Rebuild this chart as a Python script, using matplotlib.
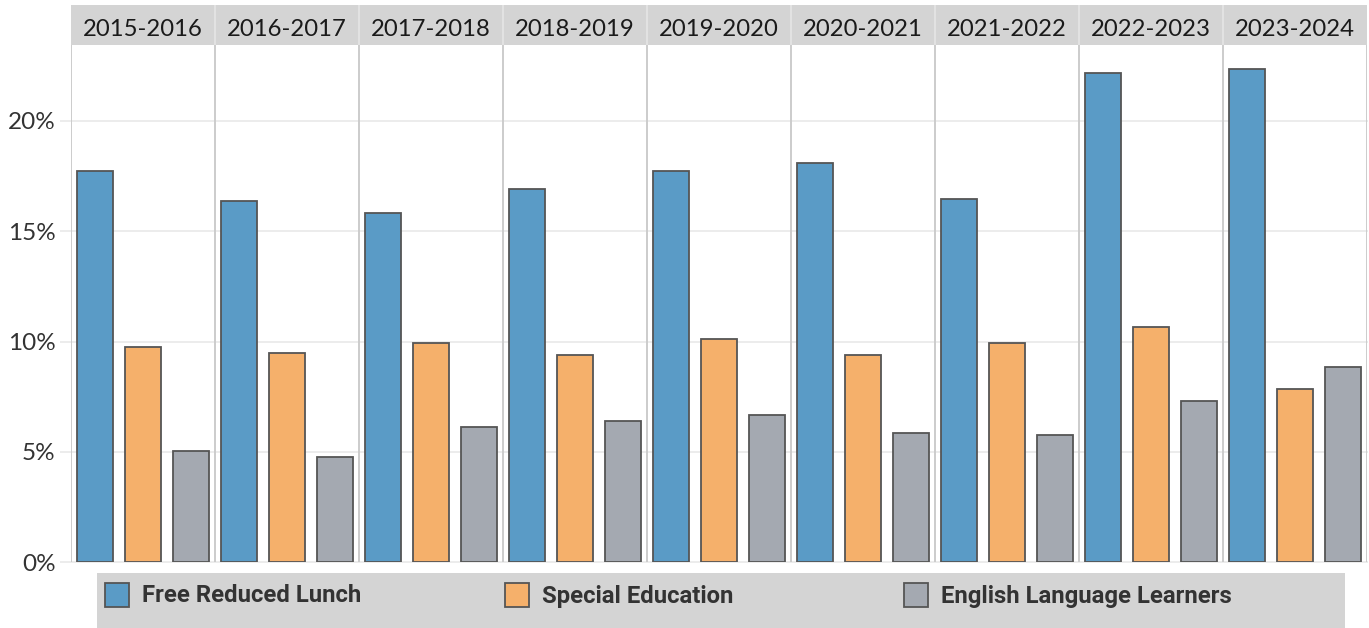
import matplotlib
matplotlib.use("Agg")
import matplotlib.pyplot as plt
from matplotlib.patches import Rectangle
from matplotlib.lines import Line2D
import numpy as np

years = ["2015-2016", "2016-2017", "2017-2018", "2018-2019", "2019-2020",
         "2020-2021", "2021-2022", "2022-2023", "2023-2024"]
series_names = ["Free Reduced Lunch", "Special Education", "English Language Learners"]
free_reduced_lunch = [17.74, 16.38, 15.83, 16.92, 17.74, 18.10, 16.47, 22.17, 22.35]
special_education = [9.77, 9.49, 9.95, 9.40, 10.13, 9.40, 9.95, 10.65, 7.83]
english_learners = [5.04, 4.78, 6.14, 6.41, 6.69, 5.87, 5.78, 7.30, 8.84]
yticks = [0, 5, 10, 15, 20]
ytick_labels = ["0%", "5%", "10%", "15%", "20%"]
colors = ["#5a9bc6", "#f5b06b", "#a4a9b1"]

W, H = 1369, 628
fig = plt.figure(figsize=(W / 100, H / 100), dpi=100)

def fx(px):
    return px / W

def fy(py):
    return 1 - py / H

left, right = 71, 1367
top, bottom = 45, 562.3
ax = fig.add_axes([fx(left), fy(bottom), fx(right - left), fy(top) - fy(bottom)])
ymax = (bottom - top) / ((bottom - 120.7) / 20)
ax.set_xlim(0, 27)
ax.set_ylim(0, ymax)

all_series = [free_reduced_lunch, special_education, english_learners]
for j, vals in enumerate(all_series):
    xs = np.arange(len(years)) * 3 + j + 0.5
    ax.bar(xs, vals, width=0.765, color=colors[j], edgecolor="#555555",
           linewidth=1.3, zorder=3)

# grid lines (extend slightly left of axis)
for t in yticks:
    ax.add_line(Line2D([-10 / (right - left) * 27, 27], [t, t], color="#ececec",
                       linewidth=1.4, zorder=1, clip_on=False))
# panel dividers
for i in range(10):
    ax.axvline(i * 3, color="#cccccc", linewidth=1.4, zorder=2)

ax.set_yticks(yticks)
ax.set_yticklabels(ytick_labels)
ax.set_xticks([])
ax.tick_params(axis="y", length=0, pad=11, labelsize=17.5, labelcolor="#333333")
for lab in ax.get_yticklabels():
    lab.set_fontfamily("Lato")
for s in ax.spines.values():
    s.set_visible(False)

# header
hax = fig.add_axes([fx(left), fy(45), fx(right - left), fy(5) - fy(45)])
hax.set_xlim(0, 27)
hax.set_ylim(0, 1)
hax.set_facecolor("#d4d4d4")
for s in hax.spines.values():
    s.set_visible(False)
hax.set_xticks([])
hax.set_yticks([])
for i in range(1, 9):
    hax.axvline(i * 3, color="#e6e6e6", linewidth=1.2)
for i, y in enumerate(years):
    hax.text(i * 3 + 1.5, 0.40, y, ha="center", va="center", fontsize=17.2,
             color="#1a1a1a", family="Lato")

# legend
fig.patches.append(Rectangle((fx(97), 0), fx(1345 - 97), fy(573), transform=fig.transFigure,
                             facecolor="#d4d4d4", edgecolor="none"))
marker_x = [105, 505, 904]
for j, name in enumerate(series_names):
    fig.patches.append(Rectangle((fx(marker_x[j]), fy(607)), fx(24), fy(583) - fy(607),
                                 transform=fig.transFigure, facecolor=colors[j],
                                 edgecolor="#555555", linewidth=1.3))
    fig.text(fx(marker_x[j] + 37), fy(596), name, ha="left", va="center",
             fontsize=17.2, fontweight="bold", color="#333333", family="Roboto")

fig.savefig("out.png", dpi=100)
